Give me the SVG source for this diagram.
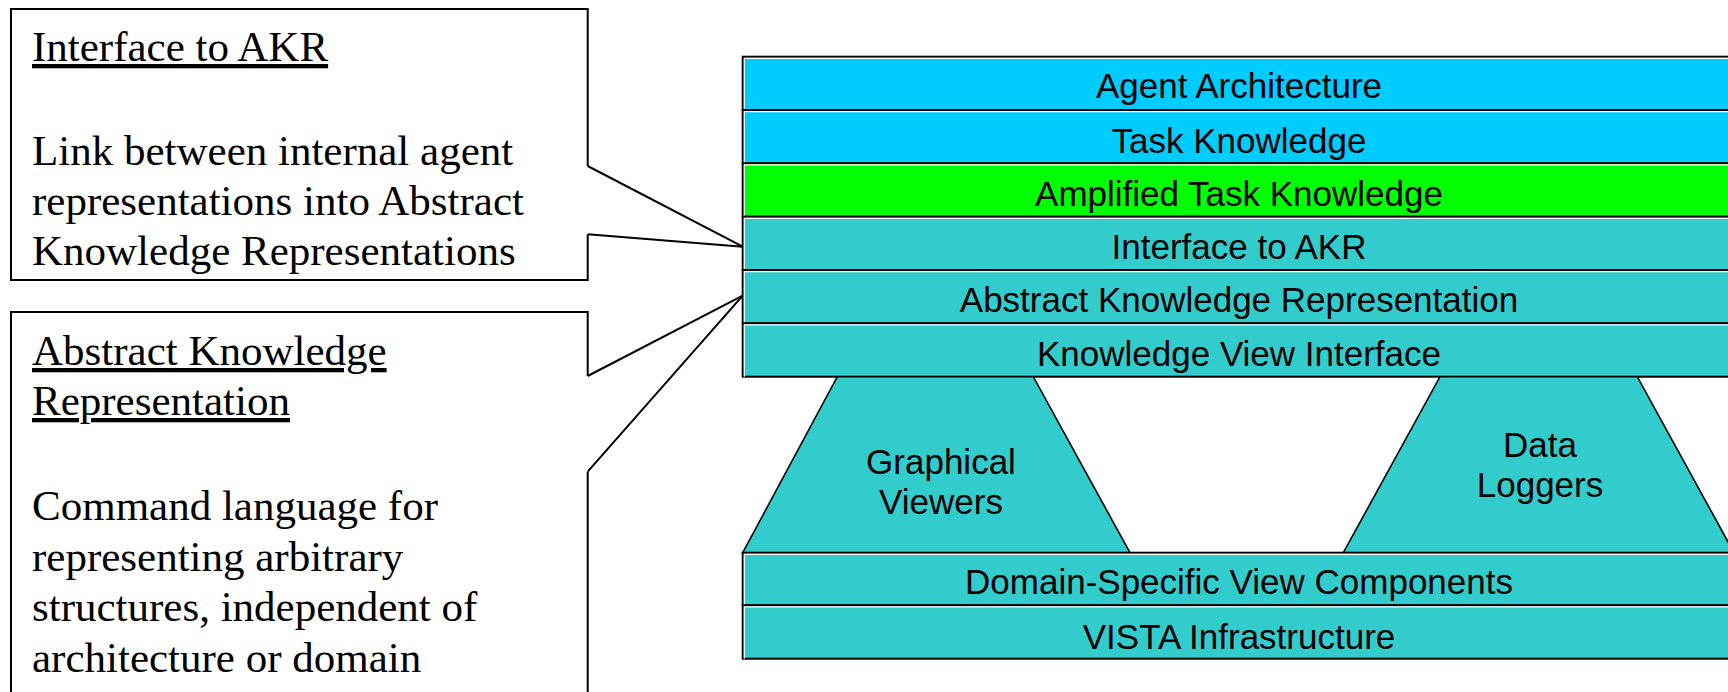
<svg xmlns="http://www.w3.org/2000/svg" width="1728" height="692" viewBox="0 0 1728 692">
  <style>
    .callout { fill: #ffffff; stroke: #000000; stroke-width: 2; stroke-linejoin: miter; }
    .note { font-family: "Liberation Serif", "Times New Roman", serif; font-size: 43px; fill: #000000; }
    .note-title { text-decoration: underline; }
    .layer { stroke: #000000; stroke-width: 2; }
    .hilite { fill: none; stroke: #ffffff; stroke-width: 1.2; }
    .cyan { fill: #00ccff; }
    .green { fill: #00ff00; }
    .teal { fill: #33cccc; }
    .trap { fill: #33cccc; stroke: #000000; stroke-width: 1.6; stroke-linejoin: miter; }
    .label { font-family: "Liberation Sans", Arial, sans-serif; font-size: 35px; fill: #000000; text-anchor: middle; }
    .pointer { fill: none; stroke: #000000; stroke-width: 2; stroke-linejoin: miter; }
  </style>

  <!-- Callout: Interface to AKR -->
  <g id="note-interface">
    <path class="callout" d="M587.7,166 V9 H11 V280 H587.7 V234.3"/>
    <text class="note note-title" x="32" y="61">Interface to AKR</text>
    <text class="note" x="32" y="165">Link between internal agent</text>
    <text class="note" x="32" y="215">representations into Abstract</text>
    <text class="note" x="32" y="265">Knowledge Representations</text>
  </g>

  <!-- Callout: Abstract Knowledge Representation -->
  <g id="note-akr">
    <path class="callout" d="M587.7,376 V312 H11 V702 H587.7 V471.7"/>
    <text class="note note-title" x="32" y="365">Abstract Knowledge</text>
    <text class="note note-title" x="32" y="415">Representation</text>
    <text class="note" x="32" y="520">Command language for</text>
    <text class="note" x="32" y="570.5">representing arbitrary</text>
    <text class="note" x="32" y="621">structures, independent of</text>
    <text class="note" x="32" y="671.5">architecture or domain</text>
  </g>

  <!-- Callout pointers into the layer stack -->
  <g id="connectors">
    <polyline class="pointer" points="587.7,166 742.7,246.7 587.7,234.3"/>
    <polyline class="pointer" points="587.7,376 742.7,295.7 587.7,471.7"/>
  </g>

  <!-- Layer stack, top part -->
  <g id="layer-agent-architecture">
    <rect class="layer cyan" x="742.7" y="56.7" width="995" height="53.3"/>
    <polyline class="hilite" points="744.3,110 744.3,58.3 1738,58.3"/>
    <text class="label" x="1239" y="98">Agent Architecture</text>
  </g>
  <g id="layer-task-knowledge">
    <rect class="layer cyan" x="742.7" y="110" width="995" height="53.3"/>
    <polyline class="hilite" points="744.3,163.3 744.3,111.6 1738,111.6"/>
    <text class="label" x="1239" y="152.5">Task Knowledge</text>
  </g>
  <g id="layer-amplified-task-knowledge">
    <rect class="layer green" x="742.7" y="163.3" width="995" height="53.4"/>
    <polyline class="hilite" points="744.3,216.7 744.3,164.9 1738,164.9"/>
    <text class="label" x="1239" y="205.5">Amplified Task Knowledge</text>
  </g>
  <g id="layer-interface-akr">
    <rect class="layer teal" x="742.7" y="216.7" width="995" height="53.3"/>
    <polyline class="hilite" points="744.3,270 744.3,218.3 1738,218.3"/>
    <text class="label" x="1239" y="258.5">Interface to AKR</text>
  </g>
  <g id="layer-akr">
    <rect class="layer teal" x="742.7" y="270" width="995" height="53.3"/>
    <polyline class="hilite" points="744.3,323.3 744.3,271.6 1738,271.6"/>
    <text class="label" x="1239" y="312">Abstract Knowledge Representation</text>
  </g>
  <g id="layer-knowledge-view-interface">
    <rect class="layer teal" x="742.7" y="323.3" width="995" height="53.4"/>
    <polyline class="hilite" points="744.3,376.7 744.3,324.9 1738,324.9"/>
    <text class="label" x="1239" y="365.5">Knowledge View Interface</text>
  </g>

  <!-- View components -->
  <g id="graphical-viewers">
    <polygon class="trap" points="837.3,376.7 1033.3,376.7 1130,552.7 742.7,552.7"/>
    <text class="label" x="941" y="474">Graphical</text>
    <text class="label" x="941" y="514">Viewers</text>
  </g>
  <g id="data-loggers">
    <polygon class="trap" points="1440,376.7 1637.3,376.7 1734,552.7 1343.3,552.7"/>
    <text class="label" x="1540" y="457">Data</text>
    <text class="label" x="1540" y="497">Loggers</text>
  </g>

  <!-- Layer stack, bottom part -->
  <g id="layer-domain-view-components">
    <rect class="layer teal" x="742.7" y="552.7" width="995" height="52.6"/>
    <polyline class="hilite" points="744.3,605.3 744.3,554.3 1738,554.3"/>
    <text class="label" x="1239" y="594.3">Domain-Specific View Components</text>
  </g>
  <g id="layer-vista-infrastructure">
    <rect class="layer teal" x="742.7" y="605.3" width="995" height="53.4"/>
    <polyline class="hilite" points="744.3,658.7 744.3,606.9 1738,606.9"/>
    <text class="label" x="1239" y="649">VISTA Infrastructure</text>
  </g>
</svg>
